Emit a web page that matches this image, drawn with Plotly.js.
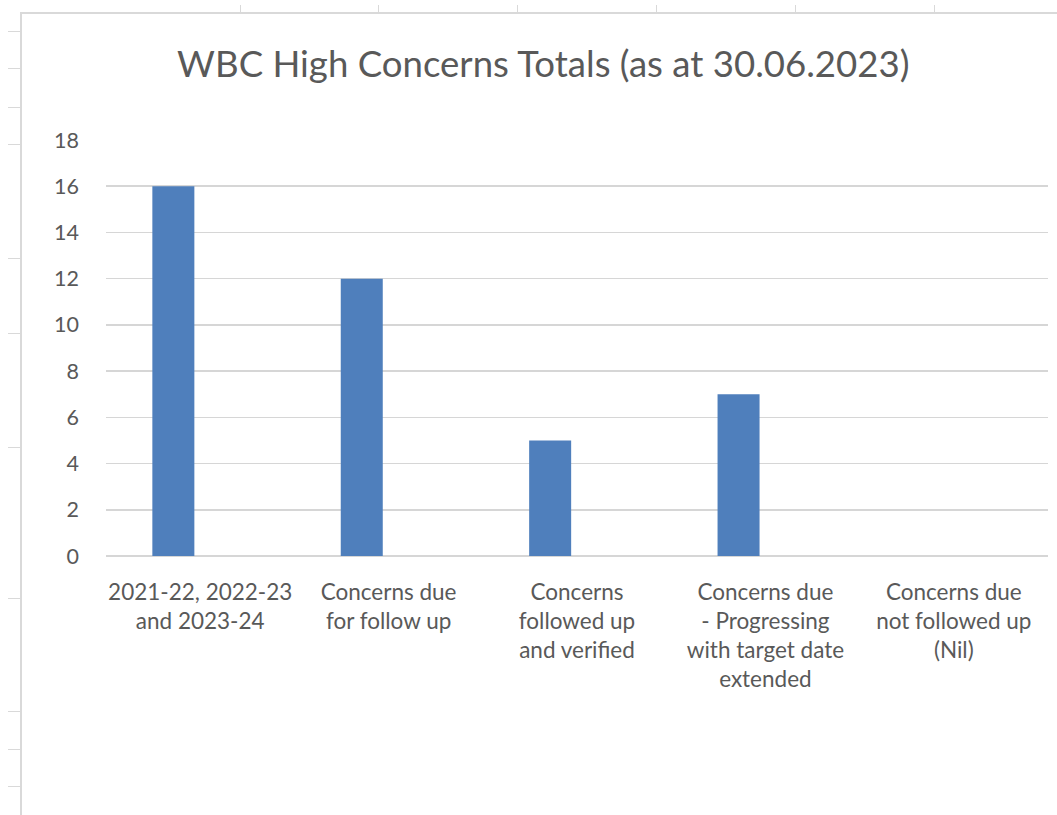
<!DOCTYPE html>
<html>
<head>
<meta charset="utf-8">
<script src="https://cdn.plot.ly/plotly-3.0.1.min.js"></script>
<style>
  html, body { margin: 0; padding: 0; background: #ffffff; overflow: hidden; }
  #wrap { position: relative; width: 1057px; height: 815px; }
  #chart { position: absolute; left: 0; top: 0; width: 1057px; height: 815px; }
  .frame { position: absolute; left: 20px; top: 12px; width: 1100px; height: 900px;
           border-left: 2px solid #d9d9d9; border-top: 2px solid #d9d9d9; }
  .rt { position: absolute; left: 8px; width: 12px; height: 1px; background: #d9d9d9; }
  .ct { position: absolute; top: 5px; width: 1px; height: 8px; background: #d9d9d9; }
</style>
</head>
<body>
<div id="wrap">
  <div class="frame"></div>
  <div id="deco"></div>
  <div id="chart"></div>
</div>
<script>
// ---- data ----
var categories = [
  "2021-22, 2022-23<br>and 2023-24",
  "Concerns due<br>for follow up",
  "Concerns<br>followed up<br>and verified",
  "Concerns due<br>- Progressing<br>with target date<br>extended",
  "Concerns due<br>not followed up<br>(Nil)"
];
var totals = [16, 12, 5, 7, 0];
var yTicks = [0, 2, 4, 6, 8, 10, 12, 14, 16, 18];
var chartTitle = "WBC High Concerns Totals (as at 30.06.2023)";

// spreadsheet background marks (decoration outside the chart frame)
var deco = document.getElementById('deco');
[31, 68, 107, 144, 258, 333, 447, 598, 711, 749, 786].forEach(function (y) {
  var d = document.createElement('div'); d.className = 'rt'; d.style.top = y + 'px'; deco.appendChild(d);
});
[240, 378, 517, 656, 795, 934].forEach(function (x) {
  var d = document.createElement('div'); d.className = 'ct'; d.style.left = x + 'px'; deco.appendChild(d);
});

var FONT = "Lato, 'Open Sans', sans-serif";
var GREY = "#595959";

var trace = {
  type: 'bar',
  x: categories,
  y: totals,
  width: 0.223,
  offset: -0.254,
  marker: { color: '#4f7fbc', line: { width: 0 } },
  hoverinfo: 'x+y'
};

var layout = {
  width: 1057,
  height: 815,
  margin: { l: 106, r: 9, t: 140, b: 259, pad: 0 },
  paper_bgcolor: 'rgba(0,0,0,0)',
  plot_bgcolor: 'rgba(0,0,0,0)',
  showlegend: false,
  title: {
    text: chartTitle,
    font: { family: FONT, size: 36.6, color: GREY },
    xref: 'container', x: 0.514, xanchor: 'center',
    yref: 'container', y: 0.921, yanchor: 'middle'
  },
  xaxis: {
    type: 'category',
    range: [-0.5, 4.5],
    showgrid: false,
    showline: false,
    zeroline: false,
    ticks: '',
    ticklabelstandoff: 20,
    tickangle: 0,
    tickfont: { family: FONT, size: 22.5, color: GREY },
    fixedrange: true
  },
  yaxis: {
    range: [0, 18],
    tickvals: yTicks,
    ticktext: yTicks.map(String),
    showgrid: true,
    gridcolor: '#d6d6d6',
    gridwidth: 1.5,
    zeroline: true,
    zerolinecolor: '#d6d6d6',
    zerolinewidth: 1.5,
    showline: false,
    ticks: '',
    ticklabelstandoff: 26,
    tickfont: { family: FONT, size: 21.5, color: GREY },
    fixedrange: true
  }
};

Plotly.newPlot('chart', [trace], layout, { displayModeBar: false, staticPlot: true });
</script>
</body>
</html>
